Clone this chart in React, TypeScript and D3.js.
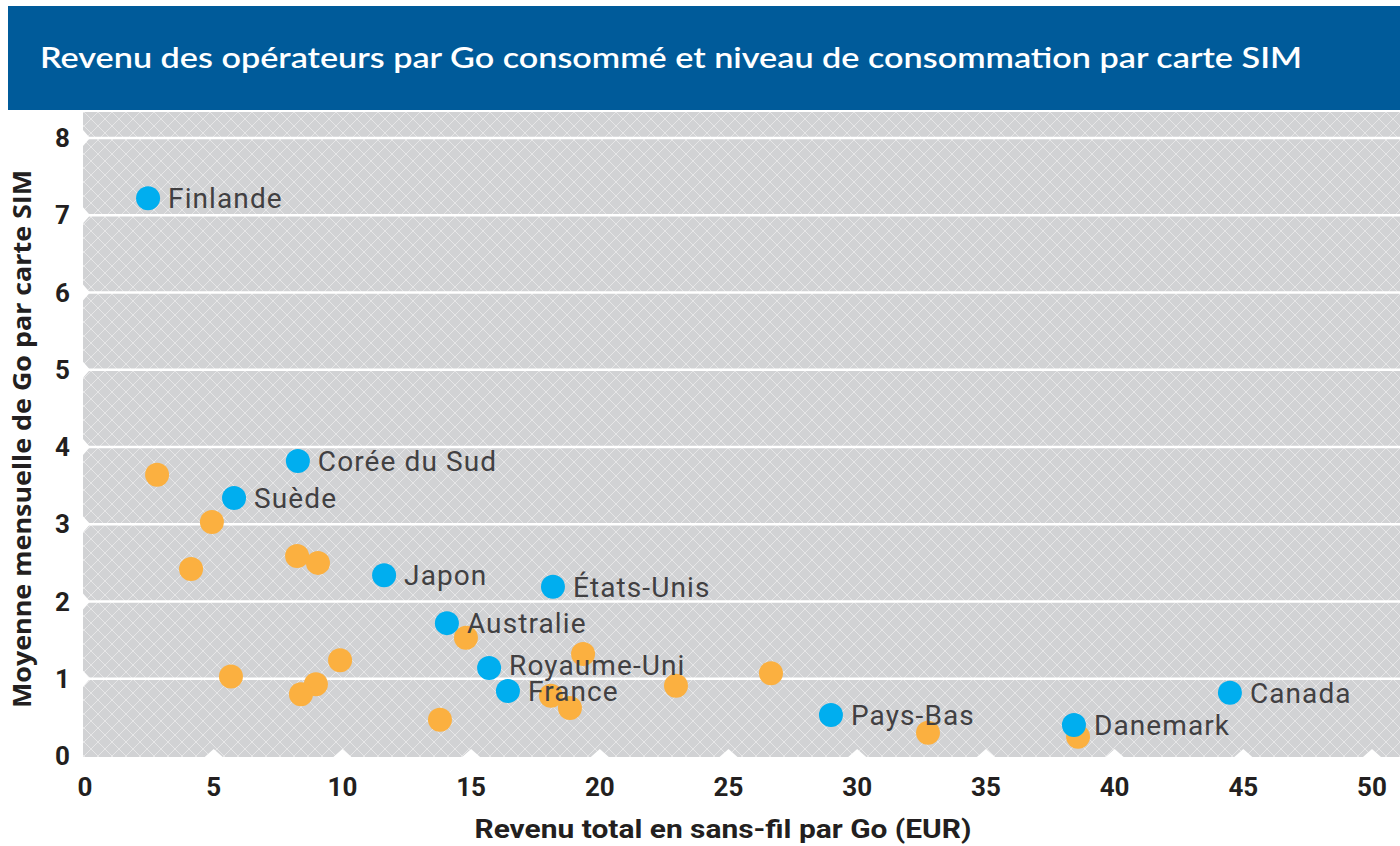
import React, { useEffect, useRef } from 'react';
import * as d3 from 'd3';

// pays mis en évidence (bleu)
const countries = ['Finlande', 'Corée du Sud', 'Suède', 'Japon', 'États-Unis', 'Australie', 'Royaume-Uni', 'France', 'Pays-Bas', 'Danemark', 'Canada'];
const countryRevenue = [2.45, 8.27, 5.79, 11.62, 18.18, 14.06, 15.7, 16.43, 28.98, 38.42, 44.48];
const countryUsage = [7.22, 3.82, 3.34, 2.34, 2.19, 1.72, 1.14, 0.84, 0.53, 0.4, 0.82];

// autres pays (orange)
const otherRevenue = [2.8, 4.93, 4.12, 8.24, 9.05, 5.67, 9.91, 8.97, 8.39, 13.79, 14.8, 19.35, 18.1, 18.84, 22.96, 26.65, 32.75, 38.58];
const otherUsage = [3.64, 3.03, 2.42, 2.59, 2.5, 1.03, 1.24, 0.93, 0.8, 0.47, 1.53, 1.32, 0.78, 0.62, 0.91, 1.07, 0.3, 0.25];

const xTicks = [0, 5, 10, 15, 20, 25, 30, 35, 40, 45, 50];
const yTicks = [0, 1, 2, 3, 4, 5, 6, 7, 8];

const title = 'Revenu des opérateurs par Go consommé et niveau de consommation par carte SIM';
const xTitle = 'Revenu total en sans-fil par Go (EUR)';
const yTitle = 'Moyenne mensuelle de Go par carte SIM';

function App() {
  const svgRef = useRef<SVGSVGElement>(null);

  useEffect(() => {
    const width = 1400;
    const height = 846;
    const svg = d3.select(svgRef.current).attr('width', width).attr('height', height);
    svg.selectAll('*').remove();

    const plot = { left: 83, right: 1400, top: 112, bottom: 757 };
    const x = d3.scaleLinear().domain([0, 50]).range([85, 1372]);
    const y = d3.scaleLinear().domain([0, 8]).range([756, 138]);

    const tickFont = 'Roboto, "DejaVu Sans", sans-serif';
    const labelFont = 'Roboto, "DejaVu Sans", sans-serif';

    // motif quadrillé en diagonale
    const defs = svg.append('defs');
    const pat = defs.append('pattern')
      .attr('id', 'hatch')
      .attr('patternUnits', 'userSpaceOnUse')
      .attr('width', 14)
      .attr('height', 14);
    pat.append('rect').attr('width', 14).attr('height', 14).attr('fill', '#d1d2d4');
    pat.append('path')
      .attr('d', 'M0,0 L14,14 M-7,7 L7,21 M7,-7 L21,7 M14,0 L0,14 M-7,7 L7,-7 M7,21 L21,7')
      .attr('stroke', '#ffffff')
      .attr('stroke-opacity', 0.45)
      .attr('stroke-width', 1);

    // bandeau titre
    svg.append('rect')
      .attr('x', 8).attr('y', 6)
      .attr('width', width - 8).attr('height', 104)
      .attr('fill', '#005b9a');
    svg.append('text')
      .attr('x', 40).attr('y', 68)
      .attr('fill', '#ffffff')
      .attr('font-family', 'Lato, "Noto Sans", sans-serif')
      .attr('font-size', 28)
      .attr('font-weight', 600)
      .attr('textLength', 1262)
      .attr('lengthAdjust', 'spacingAndGlyphs')
      .text(title);

    // fond de la zone de tracé
    svg.append('rect')
      .attr('x', plot.left).attr('y', plot.top)
      .attr('width', plot.right - plot.left).attr('height', plot.bottom - plot.top)
      .attr('fill', 'url(#hatch)');

    // lignes de grille
    svg.append('g')
      .selectAll('line')
      .data(yTicks.filter(d => d > 0))
      .enter()
      .append('line')
      .attr('x1', plot.left).attr('x2', plot.right)
      .attr('y1', d => y(d)).attr('y2', d => y(d))
      .attr('stroke', '#ffffff')
      .attr('stroke-width', 2.5);

    // encoches blanches
    svg.append('g')
      .selectAll('path')
      .data(yTicks.filter(d => d > 0))
      .enter()
      .append('path')
      .attr('d', d => `M${plot.left},${y(d) - 8} L${plot.left + 7},${y(d)} L${plot.left},${y(d) + 8} Z`)
      .attr('fill', '#ffffff');
    svg.append('g')
      .selectAll('path')
      .data(xTicks.filter(d => d > 0))
      .enter()
      .append('path')
      .attr('d', d => `M${x(d) - 9},${plot.bottom} L${x(d)},${plot.bottom - 8} L${x(d) + 9},${plot.bottom} Z`)
      .attr('fill', '#ffffff');

    // étiquettes des axes
    svg.append('g')
      .selectAll('text')
      .data(xTicks)
      .enter()
      .append('text')
      .attr('x', d => x(d))
      .attr('y', 796)
      .attr('text-anchor', 'middle')
      .attr('font-family', tickFont)
      .attr('font-weight', 'bold')
      .attr('font-size', 26)
      .attr('fill', '#231f20')
      .text(d => d);
    svg.append('g')
      .selectAll('text')
      .data(yTicks)
      .enter()
      .append('text')
      .attr('x', 70)
      .attr('y', d => y(d) + 9)
      .attr('text-anchor', 'end')
      .attr('font-family', tickFont)
      .attr('font-weight', 'bold')
      .attr('font-size', 26)
      .attr('fill', '#231f20')
      .text(d => d);

    svg.append('text')
      .attr('x', 723).attr('y', 838)
      .attr('text-anchor', 'middle')
      .attr('font-family', tickFont)
      .attr('font-weight', 'bold')
      .attr('font-size', 26)
      .attr('fill', '#231f20')
      .attr('textLength', 497)
      .attr('lengthAdjust', 'spacingAndGlyphs')
      .text(xTitle);
    svg.append('text')
      .attr('transform', 'translate(31,439) rotate(-90)')
      .attr('text-anchor', 'middle')
      .attr('font-family', '"Open Sans", "Noto Sans", sans-serif')
      .attr('font-weight', 'bold')
      .attr('font-size', 25)
      .attr('fill', '#231f20')
      .attr('textLength', 538)
      .attr('lengthAdjust', 'spacingAndGlyphs')
      .text(yTitle);

    // points orange
    const others = otherRevenue.map((v, i) => ({ x: v, y: otherUsage[i] }));
    svg.append('g')
      .selectAll('circle')
      .data(others)
      .enter()
      .append('circle')
      .attr('cx', d => x(d.x))
      .attr('cy', d => y(d.y))
      .attr('r', 12)
      .attr('fill', '#fbb040');

    // points bleus et noms
    const named = countries.map((c, i) => ({ name: c, x: countryRevenue[i], y: countryUsage[i] }));
    const g = svg.append('g');
    g.selectAll('circle')
      .data(named)
      .enter()
      .append('circle')
      .attr('cx', d => x(d.x))
      .attr('cy', d => y(d.y))
      .attr('r', 12)
      .attr('fill', '#00aeef');
    g.selectAll('text')
      .data(named)
      .enter()
      .append('text')
      .attr('x', d => x(d.x) + 20)
      .attr('y', d => y(d.y) + (d.name === 'Royaume-Uni' ? 7 : 10))
      .attr('font-family', labelFont)
      .attr('font-size', 28)
      .attr('letter-spacing', 1.1)
      .attr('fill', '#414042')
      .text(d => d.name);
  }, []);

  return (
    <svg ref={svgRef} style={{ position: 'absolute', left: 0, top: 0, background: '#ffffff' }}></svg>
  );
}

export default App;
